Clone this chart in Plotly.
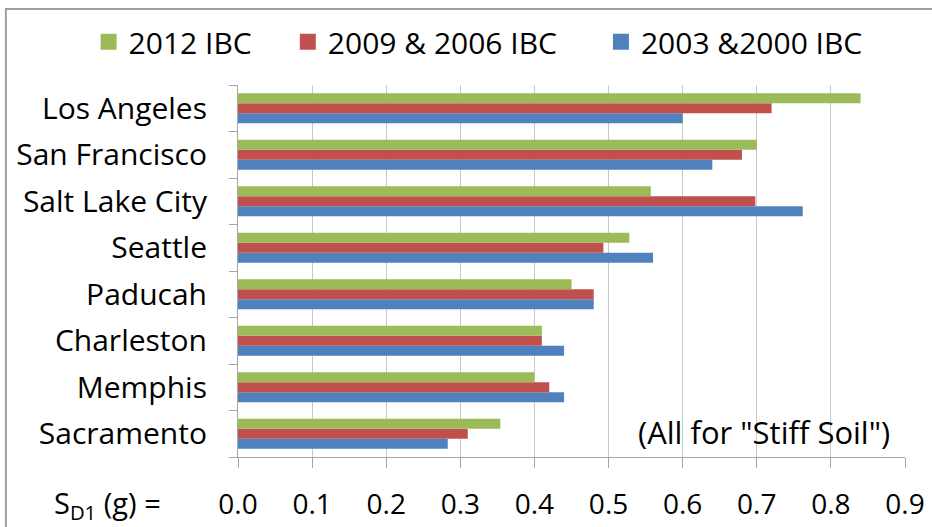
import plotly.graph_objects as go

cities = ["Los Angeles", "San Francisco", "Salt Lake City", "Seattle",
          "Paducah", "Charleston", "Memphis", "Sacramento"]
ibc_2012 = [0.84, 0.70, 0.557, 0.528, 0.45, 0.41, 0.40, 0.354]
ibc_2009_2006 = [0.72, 0.68, 0.698, 0.493, 0.48, 0.41, 0.42, 0.31]
ibc_2003_2000 = [0.60, 0.64, 0.762, 0.56, 0.48, 0.44, 0.44, 0.283]
series_names = ["2012 IBC", "2009 & 2006 IBC", "2003 &2000 IBC"]
x_ticks = [0.0, 0.1, 0.2, 0.3, 0.4, 0.5, 0.6, 0.7, 0.8, 0.9]

GREEN = "#9BBB59"
RED = "#C0504D"
BLUE = "#4F81BD"
FONT = "Open Sans"
NB = "\u00a0"

fig = go.Figure()
# first trace is drawn at the bottom of each group
fig.add_trace(go.Bar(y=cities, x=ibc_2003_2000, orientation="h", name=series_names[2],
                     marker=dict(color=BLUE, line=dict(width=0)), showlegend=False))
fig.add_trace(go.Bar(y=cities, x=ibc_2009_2006, orientation="h", name=series_names[1],
                     marker=dict(color=RED, line=dict(width=0)), showlegend=False))
fig.add_trace(go.Bar(y=cities, x=ibc_2012, orientation="h", name=series_names[0],
                     marker=dict(color=GREEN, line=dict(width=0)), showlegend=False))

# legend entries with larger square swatches
legend_items = [(series_names[0] + NB * 4, GREEN),
                (series_names[1] + NB * 5, RED),
                (series_names[2], BLUE)]
for label, col in legend_items:
    fig.add_trace(go.Scatter(x=[None], y=[None], mode="markers", name=label,
                             marker=dict(symbol="square", size=18, color=col),
                             hoverinfo="skip"))

fig.update_layout(
    width=932, height=527,
    margin=dict(l=238, r=27, t=85, b=70, autoexpand=False),
    paper_bgcolor="white", plot_bgcolor="white",
    barmode="group", bargap=0.355, bargroupgap=0,
    font=dict(family=FONT, size=29, color="#000000"),
    showlegend=True,
    legend=dict(orientation="h", traceorder="normal",
                xref="paper", x=-0.224, xanchor="left",
                yref="paper", y=1.116, yanchor="middle",
                font=dict(size=30), bgcolor="rgba(0,0,0,0)"),
    xaxis=dict(range=[0, 0.9], tickvals=x_ticks,
               ticktext=[f"{v:.1f}" for v in x_ticks],
               showgrid=True, gridcolor="#c8c8c8", gridwidth=1,
               showline=True, linecolor="#a6a6a6", linewidth=1,
               ticks="outside", ticklen=10, tickcolor="#a6a6a6",
               ticklabelstandoff=12, automargin=False,
               tickfont=dict(size=28), zeroline=False, fixedrange=True),
    yaxis=dict(categoryorder="array", categoryarray=cities[::-1],
               showgrid=False, showline=True, linecolor="#a6a6a6", linewidth=1,
               ticks="outside", ticklen=8, tickcolor="#a6a6a6",
               tickson="boundaries", ticklabelstandoff=24, automargin=False,
               tickfont=dict(size=30), fixedrange=True),
    annotations=[
        dict(text='(All for "Stiff Soil")', xref="paper", yref="paper",
             x=0.980, y=0.068, xanchor="right", yanchor="middle",
             showarrow=False, font=dict(size=31)),
        dict(text="S<sub>D1</sub> (g) =", xref="paper", yref="paper",
             x=-0.279, y=-0.128, xanchor="left", yanchor="middle",
             showarrow=False, font=dict(size=29)),
    ],
    shapes=[
        dict(type="rect", xref="paper", yref="paper",
             x0=-0.348, x1=1.2, y0=-0.4, y1=1.204,
             line=dict(color="#a0a0a0", width=2), layer="below"),
    ],
)

fig.write_html("out.html", config={"displayModeBar": False},
               post_script="document.body.style.margin='0';document.body.style.overflow='hidden';")
